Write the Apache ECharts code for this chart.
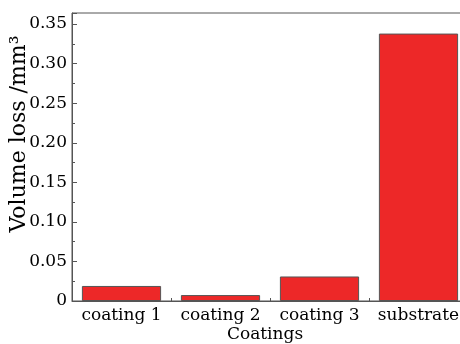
<!DOCTYPE html>
<html>
<head>
<meta charset="utf-8">
<script src="https://cdn.jsdelivr.net/npm/echarts@6/dist/echarts.min.js"></script>
<style>
html,body{margin:0;padding:0;background:#fff;}
#c{width:460px;height:344px;}
</style>
</head>
<body>
<div id="c"></div>
<script>
var categories = ['coating 1', 'coating 2', 'coating 3', 'substrate'];
var volumeLoss = [0.019, 0.0075, 0.031, 0.338];
var yTicks = [0, 0.05, 0.10, 0.15, 0.20, 0.25, 0.30, 0.35];

var font = 'DejaVu Serif';
var axisColor = '#555';
var chart = echarts.init(document.getElementById('c'));
chart.setOption({
  animation: false,
  backgroundColor: '#fff',
  grid: {left: 72, top: 13, width: 396, height: 288, show: true, borderColor: axisColor, borderWidth: 1, containLabel: false, outerBoundsMode: 'none'},
  xAxis: [{
    type: 'category',
    data: categories,
    boundaryGap: true,
    axisLine: {lineStyle: {color: axisColor, width: 1}},
    axisTick: {show: true, inside: true, alignWithLabel: true, length: 5, lineStyle: {color: axisColor}},
    axisLabel: {color: '#000', fontFamily: font, fontSize: 17, margin: 6, interval: 0},
    name: 'Coatings',
    nameLocation: 'middle',
    nameGap: 25,
    nameMoveOverlap: false,
    nameTextStyle: {color: '#000', fontFamily: font, fontSize: 17, padding: [0, 10, 0, 0]}
  }, {
    type: 'category',
    data: categories,
    boundaryGap: true,
    position: 'bottom',
    axisLine: {show: false},
    axisTick: {show: true, inside: true, length: 3, lineStyle: {color: axisColor}},
    axisLabel: {show: false}
  }],
  yAxis: {
    type: 'value',
    min: 0,
    max: 0.364,
    interval: 0.05,
    axisLine: {show: true, lineStyle: {color: axisColor, width: 1}},
    axisTick: {show: true, inside: true, length: 5, lineStyle: {color: axisColor}},
    minorTick: {show: true, splitNumber: 2, length: 3, lineStyle: {color: axisColor}},
    splitLine: {show: false},
    axisLabel: {
      color: '#000', fontFamily: font, fontSize: 17, margin: 5,
      showMaxLabel: false,
      formatter: function (v) {
        for (var i = 0; i < yTicks.length; i++) {
          if (Math.abs(v - yTicks[i]) < 1e-9) return yTicks[i] === 0 ? '0' : yTicks[i].toFixed(2);
        }
        return '';
      }
    },
    name: 'Volume loss /mm³',
    nameLocation: 'middle',
    nameGap: 42,
    nameMoveOverlap: false,
    nameRotate: 90,
    nameTextStyle: {color: '#000', fontFamily: font, fontSize: 22, padding: [0, 0, 0, 46]}
  },
  series: [{
    type: 'bar',
    data: volumeLoss,
    barWidth: '80%',
    itemStyle: {color: '#ED2828', borderColor: '#555', borderWidth: 1}
  }]
});
</script>
</body>
</html>
